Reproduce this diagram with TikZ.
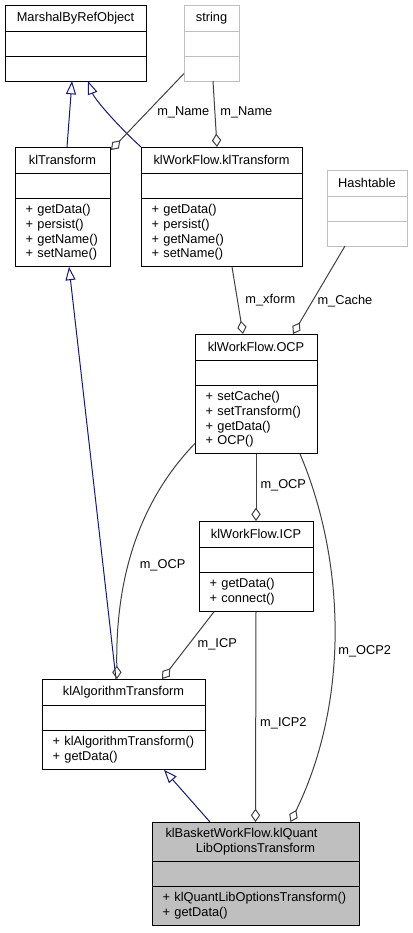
\documentclass[tikz,border=0pt]{standalone}
\usepackage{fontspec}
\setmainfont{Liberation Sans}
\usetikzlibrary{arrows.meta,positioning,calc}
\definecolor{inhblue}{HTML}{191970}
\definecolor{assocgray}{HTML}{404040}
\definecolor{extgray}{HTML}{BFBFBF}
\newcommand{\umlfont}{\fontsize{9.6}{10.9}\selectfont}
\tikzset{
  cname/.style={draw, fill=white, minimum width=#1, minimum height=19.5pt, inner sep=0pt, outer sep=0pt, align=center, font=\umlfont},
  cpart/.style={draw, fill=white, minimum width=#1, minimum height=18.75pt, inner sep=0pt, outer sep=0pt},
  cops/.style={draw, fill=white, text width=#1, inner xsep=8pt, inner ysep=5pt, outer sep=0pt, align=left, font=\umlfont},
  ext/.style={draw=extgray},
  assoc/.style={draw=assocgray, -{Diamond[open, length=10pt, width=7pt]}},
  inherit/.style={draw=inhblue, -{Triangle[open, length=10pt, width=7.5pt]}},
  lbl/.style={font=\umlfont, inner sep=0pt},
}

\begin{document}
\begin{tikzpicture}[x=0.75pt, y=-0.75pt, line width=0.75pt]
  \useasboundingbox (0,0) rectangle (412,933);

  % classes
  \node[cname=105.75pt, anchor=north west] (mbro) at (5,5) {MarshalByRefObject};
  \node[cpart=105.75pt, below=0pt of mbro] (mbro-a) {};
  \node[cpart=105.75pt, below=0pt of mbro-a] (mbro-o) {};

  \node[cname=41.25pt, ext, anchor=north west] (str) at (184,5) {string};
  \node[cpart=41.25pt, ext, below=0pt of str] (str-a) {};
  \node[cpart=41.25pt, ext, below=0pt of str-a] (str-o) {};

  \node[cname=71.25pt, anchor=north west] (klt) at (15,147) {klTransform};
  \node[cpart=71.25pt, below=0pt of klt] (klt-a) {};
  \node[cops=55.25pt, below=0pt of klt-a] (klt-o) {+ getData()\\+ persist()\\+ getName()\\+ setName()};

  \node[cname=120.75pt, anchor=north west] (wkt) at (141,147) {klWorkFlow.klTransform};
  \node[cpart=120.75pt, below=0pt of wkt] (wkt-a) {};
  \node[cops=104.75pt, below=0pt of wkt-a] (wkt-o) {+ getData()\\+ persist()\\+ getName()\\+ setName()};

  \node[cname=60pt, ext, anchor=north west] (hash) at (327,170) {Hashtable};
  \node[cpart=60pt, ext, below=0pt of hash] (hash-a) {};
  \node[cpart=60pt, ext, below=0pt of hash-a] (hash-o) {};

  \node[cname=91.5pt, anchor=north west] (ocp) at (195,334) {klWorkFlow.OCP};
  \node[cpart=91.5pt, below=0pt of ocp] (ocp-a) {};
  \node[cops=75.5pt, below=0pt of ocp-a] (ocp-o) {+ setCache()\\+ setTransform()\\+ getData()\\+ OCP()};

  \node[cname=85.5pt, anchor=north west] (icp) at (199,521) {klWorkFlow.ICP};
  \node[cpart=85.5pt, below=0pt of icp] (icp-a) {};
  \node[cops=69.5pt, below=0pt of icp-a] (icp-o) {+ getData()\\+ connect()};

  \node[cname=122.25pt, anchor=north west] (alg) at (42,679) {klAlgorithmTransform};
  \node[cpart=122.25pt, below=0pt of alg] (alg-a) {};
  \node[cops=106.25pt, below=0pt of alg-a] (alg-o) {+ klAlgorithmTransform()\\+ getData()};

  \node[cname=155.25pt, fill=extgray, minimum height=29.25pt, anchor=north west] (qlt) at (152,822) {klBasketWorkFlow.klQuant\hspace*{21pt}\\LibOptionsTransform};
  \node[cpart=155.25pt, fill=extgray, below=0pt of qlt] (qlt-a) {};
  \node[cops=139.25pt, fill=extgray, below=0pt of qlt-a] (qlt-o) {+ klQuantLibOptionsTransform()\\+ getData()};

  % generalisation
  \draw[inherit] ($(klt.north)+(4.5,0)$) -- ($(mbro-o.south)+(-3.5,0)$);
  \draw[inherit] (wkt.north west) .. controls (120,128) and (95,100) .. ($(mbro-o.south)+(12.5,0)$);
  \draw[inherit] ($(alg.north)+(-7.5,0)$) -- ($(klt-o.south)+(6.5,0)$);
  \draw[inherit] ($(qlt.north)+(-45.5,0)$) -- ($(alg-o.south)+(40.5,0)$);

  % members
  \draw[assoc] ($(str-o.west)+(0,5)$) -- node[lbl, pos=0.51, right=7.5pt] {m\_Name} ($(klt.north east)+(1,3)$);
  \draw[assoc] ($(str-o.south)+(1.5,0)$) -- node[lbl, pos=0.48, right=3.75pt] {m\_Name} ($(wkt.north)+(-4.5,0)$);
  \draw[assoc] ($(wkt-o.south)+(10.5,0)$) -- node[lbl, pos=0.5, right=5.6pt] {m\_xform} ($(ocp.north)+(-13,0)$);
  \draw[assoc] ($(hash-o.south)+(-22,0)$) -- node[lbl, pos=0.625, right=3.4pt] {m\_Cache} ($(ocp.north)+(37,0)$);
  \draw[assoc] (ocp-o.south) -- node[lbl, pos=0.47, right=3pt] {m\_OCP} (icp.north);
  \draw[assoc] ($(ocp-o.west)+(0,24)$) .. controls (150,490) and (115,560) .. node[lbl, pos=0.63, right=8pt] {m\_OCP} ($(alg.north)+(-6.5,0)$);
  \draw[assoc] ($(icp-o.south)+(-42,0)$) -- node[lbl, pos=0.49, right=6.5pt] {m\_ICP} ($(alg.north)+(38.5,0)$);
  \draw[assoc] (icp-o.south) -- node[lbl, pos=0.53, right=3pt] {m\_ICP2} (qlt.north);
  \draw[assoc] ($(ocp-o.south)+(44,0)$) .. controls (345,560) and (350,700) .. node[lbl, pos=0.55, right=3pt] {m\_OCP2} ($(qlt.north)+(35,0)$);
\end{tikzpicture}
\end{document}
